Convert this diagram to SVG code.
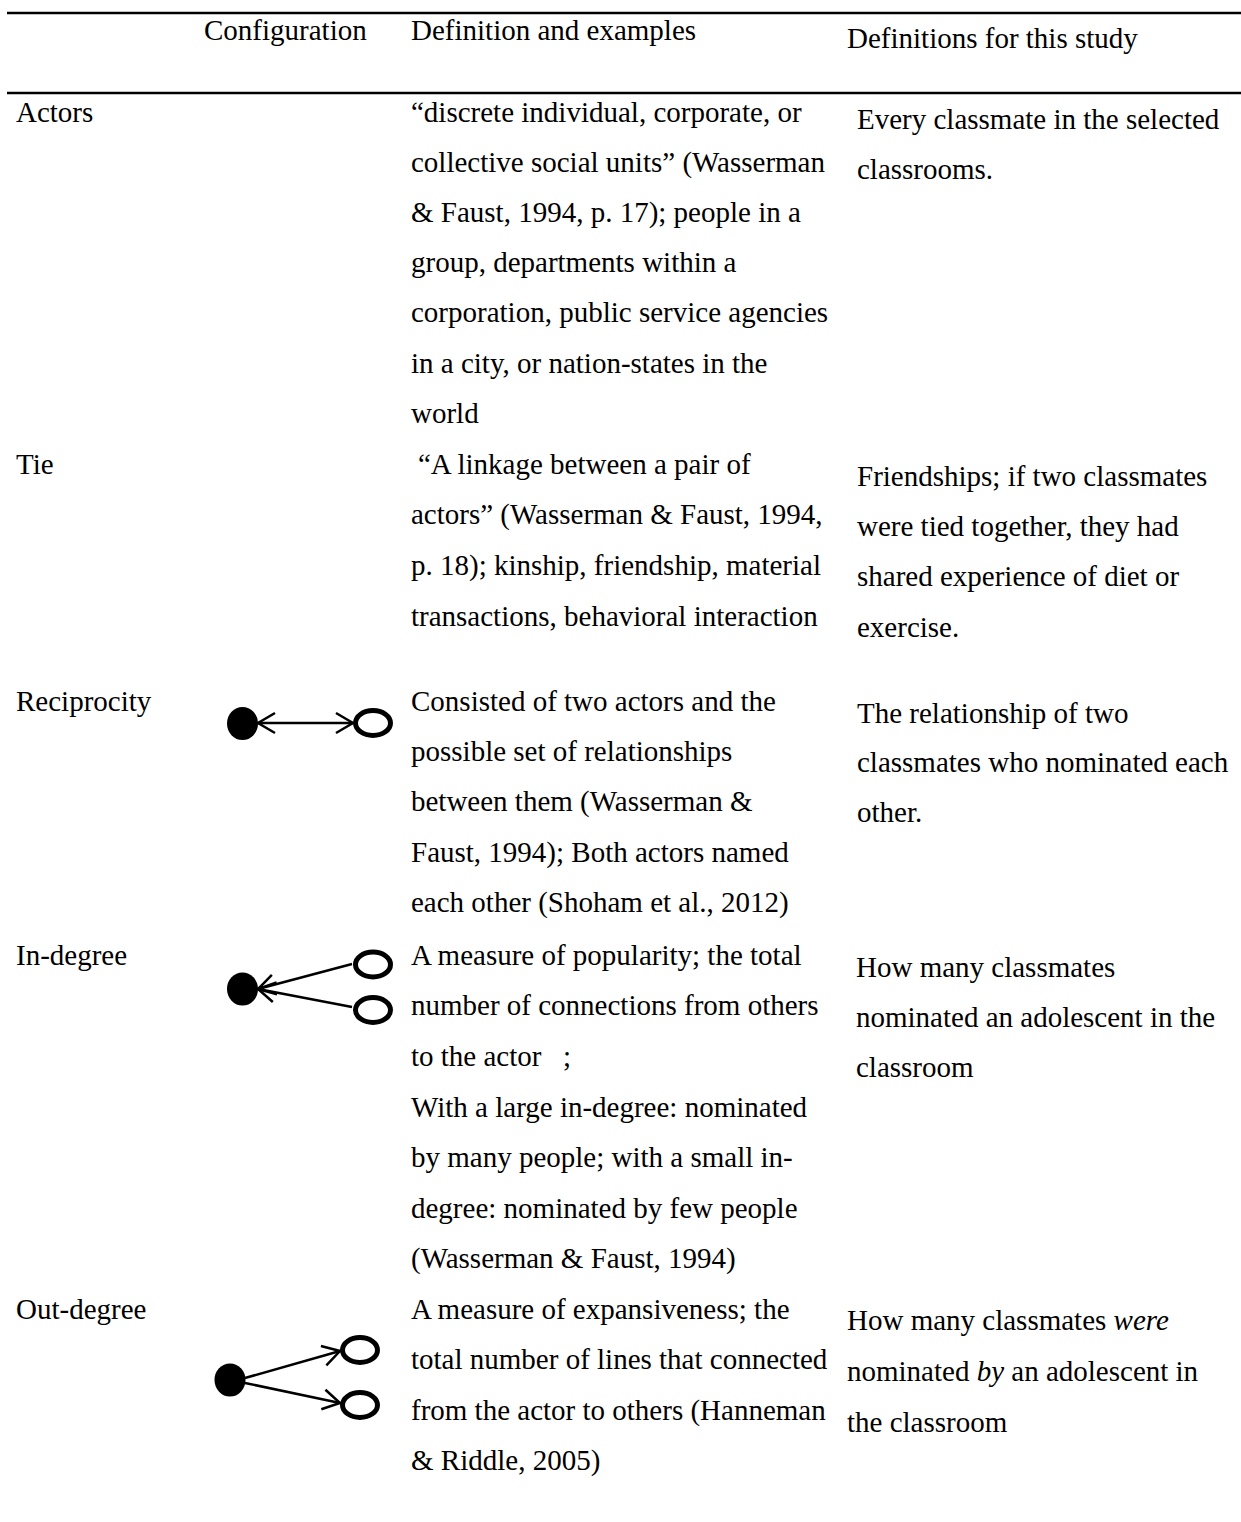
<svg xmlns="http://www.w3.org/2000/svg" width="1241" height="1522" viewBox="0 0 1241 1522">
  <style>
    text { font-family: "Liberation Serif", "Times New Roman", serif; font-size: 29px; fill: #000; }
    .it { font-style: italic; }
    .rule { stroke: #000; stroke-width: 2.5; }
    .edge { stroke: #000; stroke-width: 2.5; fill: none; }
    .actor { fill: #000; }
    .peer { fill: #fff; stroke: #000; stroke-width: 5; }
  </style>
  <defs>
    <marker id="vhead" markerUnits="userSpaceOnUse" viewBox="-20 -12 22 24" refX="0" refY="0" markerWidth="22" markerHeight="24" orient="auto-start-reverse">
      <path d="M -17 -10 L 0 0 L -17 10" fill="none" stroke="#000" stroke-width="2.5"/>
    </marker>
  </defs>
  <rect width="1241" height="1522" fill="#fff"/>

  <!-- table rules -->
  <line class="rule" x1="7" y1="13" x2="1241" y2="13"/>
  <line class="rule" x1="7" y1="93" x2="1241" y2="93"/>

  <!-- header -->
  <g id="header">
    <text x="204" y="40">Configuration</text>
    <text x="411" y="40">Definition and examples</text>
    <text x="847" y="48">Definitions for this study</text>
  </g>

  <!-- row: actors -->
  <g id="row-actors" transform="translate(0,2)">
    <text x="16" y="120">Actors</text>
    <text x="411" y="120">“discrete individual, corporate, or</text>
    <text x="411" y="170">collective social units” (Wasserman</text>
    <text x="411" y="220">&amp; Faust, 1994, p. 17); people in a</text>
    <text x="411" y="270">group, departments within a</text>
    <text x="411" y="320">corporation, public service agencies</text>
    <text x="411" y="371">in a city, or nation-states in the</text>
    <text x="411" y="421">world</text>
    <text x="857" y="127">Every classmate in the selected</text>
    <text x="857" y="177">classrooms.</text>
  </g>

  <!-- row: tie -->
  <g id="row-tie" transform="translate(0,2)">
    <text x="16" y="472">Tie</text>
    <text x="418" y="472">“A linkage between a pair of</text>
    <text x="411" y="522">actors” (Wasserman &amp; Faust, 1994,</text>
    <text x="411" y="573">p. 18); kinship, friendship, material</text>
    <text x="411" y="624">transactions, behavioral interaction</text>
    <text x="857" y="484">Friendships; if two classmates</text>
    <text x="857" y="534">were tied together, they had</text>
    <text x="857" y="584">shared experience of diet or</text>
    <text x="857" y="635">exercise.</text>
  </g>

  <!-- row: reciprocity -->
  <g id="row-reciprocity" transform="translate(0,2)">
    <text x="16" y="709">Reciprocity</text>
    <text x="411" y="709">Consisted of two actors and the</text>
    <text x="411" y="759">possible set of relationships</text>
    <text x="411" y="809">between them (Wasserman &amp;</text>
    <text x="411" y="860">Faust, 1994); Both actors named</text>
    <text x="411" y="910">each other (Shoham et al., 2012)</text>
    <text x="857" y="721">The relationship of two</text>
    <text x="857" y="770">classmates who nominated each</text>
    <text x="857" y="820">other.</text>
  </g>

  <!-- row: in-degree -->
  <g id="row-indegree" transform="translate(0,2)">
    <text x="16" y="963">In-degree</text>
    <text x="411" y="963">A measure of popularity; the total</text>
    <text x="411" y="1013">number of connections from others</text>
    <text x="411" y="1064">to the actor</text>
    <text x="563" y="1064">;</text>
    <text x="411" y="1115">With a large in-degree: nominated</text>
    <text x="411" y="1165">by many people; with a small in-</text>
    <text x="411" y="1216">degree: nominated by few people</text>
    <text x="411" y="1266">(Wasserman &amp; Faust, 1994)</text>
    <text x="856" y="975">How many classmates</text>
    <text x="856" y="1025">nominated an adolescent in the</text>
    <text x="856" y="1075">classroom</text>
  </g>

  <!-- row: out-degree -->
  <g id="row-outdegree" transform="translate(0,2)">
    <text x="16" y="1317">Out-degree</text>
    <text x="411" y="1317">A measure of expansiveness; the</text>
    <text x="411" y="1367">total number of lines that connected</text>
    <text x="411" y="1418">from the actor to others (Hanneman</text>
    <text x="411" y="1468">&amp; Riddle, 2005)</text>
    <text x="847" y="1328">How many classmates <tspan class="it">were</tspan></text>
    <text x="847" y="1379">nominated <tspan class="it">by</tspan> an adolescent in</text>
    <text x="847" y="1430">the classroom</text>
  </g>

  <!-- configuration nodes -->
  <g id="recip-a"><ellipse class="actor" cx="242.5" cy="723.5" rx="15.5" ry="16.5"/></g>
  <g id="recip-b"><ellipse class="peer" cx="373" cy="723" rx="17.5" ry="12.5"/></g>

  <g id="in-a"><ellipse class="actor" cx="242.5" cy="989" rx="15.5" ry="16.5"/></g>
  <g id="in-b"><ellipse class="peer" cx="373" cy="964.5" rx="17.5" ry="12.5"/></g>
  <g id="in-c"><ellipse class="peer" cx="373" cy="1010" rx="17.5" ry="12.5"/></g>

  <g id="out-a"><ellipse class="actor" cx="230" cy="1380" rx="15.5" ry="16.5"/></g>
  <g id="out-b"><ellipse class="peer" cx="360" cy="1350" rx="17.5" ry="12.5"/></g>
  <g id="out-c"><ellipse class="peer" cx="360" cy="1405" rx="17.5" ry="12.5"/></g>

  <!-- connectors -->
  <g id="connectors">
    <line class="edge" x1="258" y1="723" x2="353" y2="723" marker-start="url(#vhead)" marker-end="url(#vhead)"/>
    <line class="edge" x1="352" y1="964" x2="258" y2="989" marker-end="url(#vhead)"/>
    <line class="edge" x1="352" y1="1007" x2="258" y2="989" marker-end="url(#vhead)"/>
    <line class="edge" x1="245" y1="1378" x2="340" y2="1351" marker-end="url(#vhead)"/>
    <line class="edge" x1="245" y1="1383" x2="340" y2="1403" marker-end="url(#vhead)"/>
  </g>
</svg>
